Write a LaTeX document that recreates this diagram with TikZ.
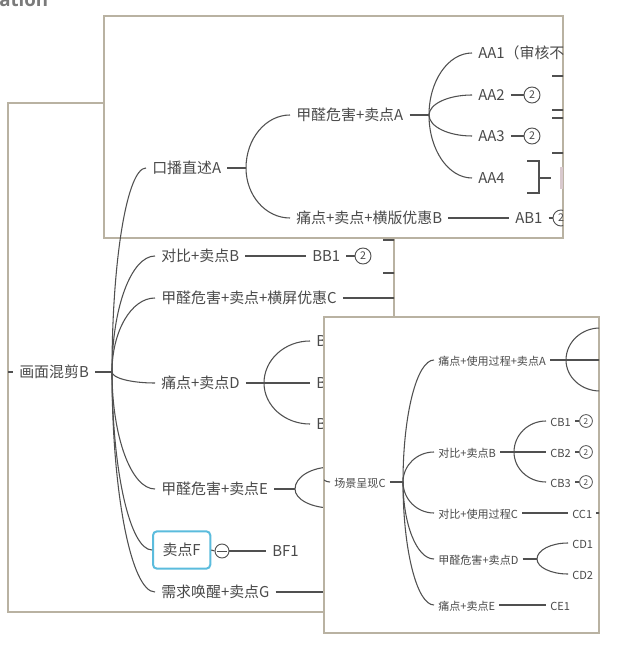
\documentclass[tikz,border=0pt]{standalone}
\usepackage{fontspec}
\setmainfont{Noto Sans CJK SC}
\newfontfamily\titlefont{Open Sans}
\usetikzlibrary{calc}
\definecolor{txt}{HTML}{4A4A4A}
\definecolor{ln}{HTML}{505050}
\definecolor{frame}{HTML}{B9B2A2}
\definecolor{sel}{HTML}{5BBCDD}
\definecolor{pinkish}{HTML}{D9C9CE}
\tikzset{
  lbl/.style={anchor=west, inner xsep=4.5pt, inner ysep=0pt, text height=0.88em, text depth=0.12em, text=txt, font=\fontsize{11.2}{13}\selectfont},
  slbl/.style={anchor=west, inner xsep=3pt, inner ysep=0pt, text height=0.88em, text depth=0.12em, text=txt, font=\fontsize{8.3}{10}\selectfont},
  conn/.style={draw=ln, line width=0.8pt},
  brk/.style={draw=ln, line width=1.6pt},
  panel/.style={fill=white, draw=frame, line width=2.2pt},
  badge/.style={circle, draw=ln, line width=0.7pt, inner sep=0pt, minimum size=12pt, text=txt, font=\fontsize{8}{9}\selectfont},
  sbadge/.style={circle, draw=ln, line width=0.6pt, inner sep=0pt, minimum size=9.6pt, text=txt, font=\fontsize{6.2}{7}\selectfont},
}
\newcommand\mcurve[2]{\draw[conn] (#1) .. controls ($(#1)!0.552!(#1|-#2)$) and ($(#2)!0.552!(#1|-#2)$) .. (#2);}
\begin{document}
\begin{tikzpicture}[x=0.75pt,y=-0.75pt]
\useasboundingbox (0,0) rectangle (642,648);
\fill[white] (0,0) rectangle (642,648);
\node[anchor=base west, inner sep=0pt, text=black!52, font=\titlefont\bfseries\fontsize{14}{16}\selectfont] (title) at (-1,7) {ation};

% ---------------- panel 2 ----------------
\draw[panel] (8,103) rectangle (394,612);
\begin{scope}
\clip (8,103) rectangle (394,612);
\coordinate (Bin) at (2,372);
\node[lbl] (B) at (13,372) {画面混剪B};
\draw[conn] (Bin) -- (B.west);
\coordinate (fB) at (112,372);
\draw[conn] (B.east) -- (fB);
\node[lbl] (BB) at (155,256) {对比+卖点B};
\node[lbl] (BC) at (155,298) {甲醛危害+卖点+横屏优惠C};
\node[lbl] (BD) at (155,383) {痛点+卖点D};
\node[lbl] (BE) at (155,489) {甲醛危害+卖点E};
\node[lbl, anchor=west, draw=sel, line width=1.5pt, rounded corners=3pt, inner xsep=7.2pt, minimum height=28pt] (BF) at (152,550) {卖点F};
\node[lbl] (BG) at (155,592) {需求唤醒+卖点G};
\foreach \n in {BB,BC,BD,BE,BF,BG}{\mcurve{fB}{\n.west}}
% BB
\node[lbl] (BB1) at (306,256) {BB1};
\draw[conn] (BB.east) -- (BB1.west);
\node[badge] (BB1b) at (363,256) {2};
\draw[conn] (BB1.east) -- (BB1b.west);
\coordinate (s1a) at (383,240); \coordinate (s1b) at (398,240);
\coordinate (s2a) at (383,273); \coordinate (s2b) at (398,273);
\draw[brk] (s1a) -- (s1b);
\draw[brk] (s2a) -- (s2b);
% BC
\coordinate (BCend) at (400,298);
\draw[conn] (BC.east) -- (BCend);
% BD
\coordinate (fD) at (264,383);
\draw[conn] (BD.east) -- (fD);
\node[lbl] (BD1) at (310,341) {BD1};
\node[lbl] (BD2) at (310,383) {BD2};
\node[lbl] (BD3) at (310,424) {BD3};
\foreach \n in {BD1,BD2,BD3}{\mcurve{fD}{\n.west}}
% BE
\coordinate (fE) at (295,489);
\draw[conn] (BE.east) -- (fE);
\coordinate (cE1) at (332,467);
\coordinate (cE2) at (332,508);
\mcurve{fE}{cE1}
\mcurve{fE}{cE2}
% BF
\node[circle, draw=ln, line width=0.7pt, minimum size=10.5pt, inner sep=0pt] (BFc) at (222,551) {};
\draw[conn] (BF.east) -- (BFc.west);
\draw[ln, line width=0.7pt] ($(BFc.west)+(2.5,0)$) -- ($(BFc.east)+(-2.5,0)$);
\node[lbl] (BF1) at (266,551) {BF1};
\draw[conn] (BFc.east) -- (BF1.west);
% BG
\coordinate (BGend) at (332,592);
\draw[conn] (BG.east) -- (BGend);
\end{scope}

% ---------------- panel 1 ----------------
\draw[panel] (104,16) rectangle (563,238);
\begin{scope}
\clip (104,16) rectangle (563,238);
\node[lbl] (A) at (146,168) {口播直述A};
\coordinate (fA) at (246,168);
\draw[conn] (A.east) -- (fA);
\node[lbl] (AA) at (290,115) {甲醛危害+卖点A};
\node[lbl] (AB) at (290,218) {痛点+卖点+横版优惠B};
\mcurve{fA}{AA.west}
\mcurve{fA}{AB.west}
\coordinate (fAA) at (429,115);
\draw[conn] (AA.east) -- (fAA);
\node[lbl] (AA1) at (472,53) {AA1（审核不};
\node[lbl] (AA2) at (472,95) {AA2};
\node[lbl] (AA3) at (472,136) {AA3};
\node[lbl] (AA4) at (472,178) {AA4};
\foreach \n in {AA1,AA2,AA3,AA4}{\mcurve{fAA}{\n.west}}
\node[badge] (AA2b) at (532,95) {2};
\node[badge] (AA3b) at (532,136) {2};
\draw[conn] (AA2.east) -- (AA2b.west);
\draw[conn] (AA3.east) -- (AA3b.west);
\coordinate (bt) at (527,161); \coordinate (bb) at (527,193);
\coordinate (bm) at (539,178); \coordinate (bs) at (551,178);
\draw[brk] (bt) -- (bt -| bm) -- (bb -| bm) -- (bb);
\draw[brk] (bm) -- (bs);
\fill[pinkish] (560,167) rectangle (566,189);
\foreach \yy in {76,110,118,153}{\draw[brk] (552,\yy) -- (568,\yy);}
\node[lbl] (AB1) at (509,218) {AB1};
\draw[conn] (AB.east) -- (AB1.west);
\node[badge] (AB1b) at (561,218) {2};
\draw[conn] (AB1.east) -- (AB1b.west);
\end{scope}
\mcurve{fB}{A.west}

% ---------------- panel 3 ----------------
\draw[panel] (324,317) rectangle (599,633);
\begin{scope}
\clip (324,317) rectangle (599,633);
\node[slbl] (C) at (330,482) {场景呈现C};
\coordinate (Cin) at (316,462);
\mcurve{Cin}{C.west}
\coordinate (fC) at (403,482);
\draw[conn] (C.east) -- (fC);
\node[slbl] (CA) at (434,360) {痛点+使用过程+卖点A};
\node[slbl] (CB) at (434,452) {对比+卖点B};
\node[slbl] (CC) at (434,513) {对比+使用过程C};
\node[slbl] (CD) at (434,559) {甲醛危害+卖点D};
\node[slbl] (CE) at (434,605) {痛点+卖点E};
\foreach \n in {CA,CB,CC,CD,CE}{\mcurve{fC}{\n.west}}
% CA
\coordinate (fCA) at (566,360);
\draw[conn] (CA.east) -- (fCA);
\coordinate (ca1) at (600,328);
\coordinate (ca2) at (600,360);
\coordinate (ca3) at (600,391);
\foreach \n in {ca1,ca2,ca3}{\mcurve{fCA}{\n}}
% CB
\coordinate (fCB) at (514,452);
\draw[conn] (CB.east) -- (fCB);
\node[slbl] (CB1) at (546,421) {CB1};
\node[slbl] (CB2) at (546,452) {CB2};
\node[slbl] (CB3) at (546,482) {CB3};
\foreach \n in {CB1,CB2,CB3}{\mcurve{fCB}{\n.west}}
\node[sbadge] (CB1b) at (586,421) {2};
\node[sbadge] (CB2b) at (586,452) {2};
\node[sbadge] (CB3b) at (586,482) {2};
\draw[conn] (CB1.east) -- (CB1b.west);
\draw[conn] (CB2.east) -- (CB2b.west);
\draw[conn] (CB3.east) -- (CB3b.west);
% CC
\node[slbl] (CC1) at (568,513) {CC1};
\draw[conn] (CC.east) -- (CC1.west);
\coordinate (CCend) at (606,513);
\draw[conn] (CC1.east) -- (CCend);
% CD
\coordinate (fCD) at (537,559);
\draw[conn] (CD.east) -- (fCD);
\node[slbl] (CD1) at (568,543) {CD1};
\node[slbl] (CD2) at (568,574) {CD2};
\mcurve{fCD}{CD1.west}
\mcurve{fCD}{CD2.west}
% CE
\node[slbl] (CE1) at (546,605) {CE1};
\draw[conn] (CE.east) -- (CE1.west);
\end{scope}
\end{tikzpicture}
\end{document}
